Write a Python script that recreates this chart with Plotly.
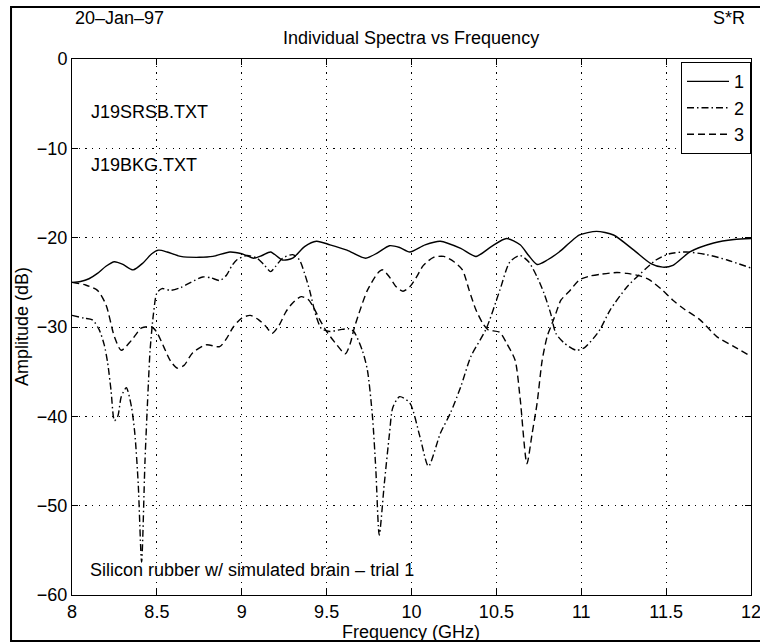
import plotly.graph_objects as go

# Frequency axis (GHz) and amplitude (dB) for each spectrum
freq_1 = [8.0, 8.05, 8.1, 8.15, 8.2, 8.25, 8.3, 8.36, 8.42, 8.47, 8.51, 8.56, 8.64, 8.75,
          8.83, 8.93, 9.0, 9.07, 9.12, 9.17, 9.24, 9.3, 9.37, 9.44, 9.52, 9.62, 9.73, 9.8,
          9.87, 9.93, 9.99, 10.08, 10.17, 10.29, 10.38, 10.47, 10.56, 10.64, 10.69, 10.74,
          10.8, 10.87, 10.93, 10.99, 11.09, 11.19, 11.31, 11.41, 11.48, 11.54, 11.64, 11.78,
          11.9, 12.0]
amp_1 = [-25.0, -24.9, -24.6, -24.0, -23.2, -22.7, -23.0, -23.6, -22.8, -21.8, -21.4, -21.6,
         -22.1, -22.2, -22.1, -21.6, -21.8, -22.3, -22.0, -21.6, -22.5, -22.3, -21.0, -20.4,
         -20.8, -21.4, -22.3, -21.7, -20.9, -21.1, -21.6, -20.8, -20.4, -21.2, -22.1, -21.0,
         -20.1, -20.8, -22.0, -23.0, -22.5, -21.6, -20.6, -19.7, -19.3, -19.7, -21.4, -22.9,
         -23.3, -23.1, -21.6, -20.6, -20.2, -20.1]

freq_2 = [8.0, 8.07, 8.12, 8.16, 8.19, 8.21, 8.23, 8.25, 8.27, 8.29, 8.32, 8.35, 8.37, 8.39,
          8.41, 8.43, 8.45, 8.46, 8.48, 8.5, 8.53, 8.58, 8.64, 8.7, 8.77, 8.82, 8.87, 8.91,
          8.94, 8.97, 9.03, 9.09, 9.13, 9.17, 9.2, 9.24, 9.3, 9.34, 9.37, 9.4, 9.42, 9.44,
          9.47, 9.52, 9.58, 9.63, 9.66, 9.71, 9.74, 9.77, 9.79, 9.81, 9.84, 9.87, 9.89, 9.93,
          9.99, 10.05, 10.1, 10.17, 10.23, 10.29, 10.35, 10.44, 10.52, 10.58, 10.64, 10.69,
          10.74, 10.78, 10.82, 10.85, 10.9, 10.97, 11.02, 11.07, 11.11, 11.17, 11.27, 11.35,
          11.44, 11.52, 11.62, 11.74, 11.86, 12.0]
amp_2 = [-28.7, -29.0, -29.2, -30.3, -32.0, -34.0, -37.1, -40.5, -40.0, -37.8, -36.8, -38.9,
         -41.9, -47.5, -56.3, -45.0, -36.3, -32.6, -28.5, -26.2, -25.7, -25.9, -25.6, -25.0,
         -24.4, -24.5, -24.8, -24.2, -23.2, -22.5, -22.0, -22.3, -23.0, -23.8, -23.2, -22.3,
         -21.9, -22.5, -24.0, -25.9, -27.5, -28.9, -30.2, -30.5, -30.3, -30.2, -30.5, -32.6,
         -34.8, -40.0, -46.0, -53.3, -47.5, -42.0, -39.0, -37.8, -38.5, -42.3, -45.6, -41.9,
         -39.6, -36.7, -33.3, -30.2, -25.9, -22.7, -22.0, -22.7, -24.4, -26.2, -28.5, -30.7,
         -31.8, -32.6, -32.3, -31.3, -30.3, -28.1, -25.5, -24.0, -22.5, -21.8, -21.6, -21.9,
         -22.5, -23.4]

freq_3 = [8.0, 8.08, 8.15, 8.2, 8.25, 8.29, 8.35, 8.41, 8.47, 8.5, 8.54, 8.58, 8.62, 8.66,
          8.71, 8.79, 8.87, 8.91, 8.95, 9.0, 9.05, 9.1, 9.14, 9.18, 9.22, 9.26, 9.3, 9.35,
          9.39, 9.42, 9.46, 9.5, 9.56, 9.61, 9.64, 9.66, 9.69, 9.74, 9.8, 9.83, 9.87, 9.91,
          9.95, 9.99, 10.03, 10.07, 10.13, 10.19, 10.25, 10.3, 10.34, 10.38, 10.42, 10.45,
          10.52, 10.56, 10.61, 10.64, 10.68, 10.71, 10.74, 10.77, 10.8, 10.82, 10.85, 10.88,
          10.93, 10.99, 11.05, 11.11, 11.21, 11.27, 11.35, 11.4, 11.48, 11.54, 11.6, 11.7,
          11.8, 11.9, 12.0]
amp_3 = [-25.0, -25.3, -25.9, -27.5, -31.1, -32.6, -31.5, -30.1, -30.0, -30.6, -32.2, -33.8,
         -34.6, -34.3, -32.9, -32.0, -32.2, -31.3, -30.0, -29.0, -28.7, -29.2, -29.9, -30.7,
         -29.8, -28.3, -27.3, -26.6, -26.9, -27.7, -29.2, -30.5, -32.0, -33.0, -31.8, -30.3,
         -28.5, -25.9, -24.0, -23.6, -24.4, -25.5, -26.0, -25.5, -24.4, -23.1, -22.2, -22.1,
         -22.7, -23.6, -25.9, -28.1, -29.6, -30.3, -30.6, -31.8, -33.7, -38.0, -45.3, -42.0,
         -38.5, -33.7, -31.0, -30.0, -28.5, -27.0, -26.0, -24.7, -24.3, -24.1, -23.9, -24.0,
         -24.3, -24.7, -25.9, -27.0, -27.9, -29.2, -31.1, -32.2, -33.3]

x_ticks = [8, 8.5, 9, 9.5, 10, 10.5, 11, 11.5, 12]
x_tick_text = ["8", "8.5", "9", "9.5", "10", "10.5", "11", "11.5", "12"]
y_ticks = [0, -10, -20, -30, -40, -50, -60]

FONT = "Liberation Sans, Arial, Helvetica, sans-serif"
INK = "black"

fig = go.Figure()
fig.add_trace(go.Scatter(x=freq_1, y=amp_1, name="1", mode="lines",
                         line=dict(color=INK, width=1.4, shape="spline", smoothing=0.7)))
fig.add_trace(go.Scatter(x=freq_2, y=amp_2, name="2", mode="lines",
                         line=dict(color=INK, width=1.4, shape="spline", smoothing=0.7,
                                   dash="7px,3px,1.5px,3px")))
fig.add_trace(go.Scatter(x=freq_3, y=amp_3, name="3", mode="lines",
                         line=dict(color=INK, width=1.4, shape="spline", smoothing=0.7,
                                   dash="7px,4px")))

axis_common = dict(
    showline=True, linecolor=INK, linewidth=1, mirror="ticks",
    ticks="inside", ticklen=6, tickcolor=INK, tickwidth=1,
    showgrid=True, gridcolor=INK, gridwidth=1.1, griddash="1.2px,5.5px",
    zeroline=False, tickfont=dict(family=FONT, size=18, color=INK),
    ticklabeloverflow="allow", automargin=False,
)

fig.update_xaxes(range=[8, 12], tickvals=x_ticks, ticktext=x_tick_text, **axis_common)
fig.update_yaxes(range=[-60, 0], tickvals=y_ticks, **axis_common)

# Frame around the whole figure
fig.add_shape(type="rect", xref="paper", yref="paper",
              x0=-0.0898, x1=1.02, y0=-0.0858, y1=1.097,
              line=dict(color=INK, width=2), layer="below")

notes = [
    dict(text="20\u2013Jan\u201397", x=0.0015, y=1.0765, xanchor="left"),
    dict(text="S*R", x=0.994, y=1.0765, xanchor="right"),
    dict(text="Individual Spectra vs Frequency", x=0.4993, y=1.039, xanchor="center"),
    dict(text="Frequency (GHz)", x=0.4993, y=-0.069, xanchor="center"),
]
for n in notes:
    fig.add_annotation(xref="paper", yref="paper", showarrow=False, yanchor="middle",
                       font=dict(family=FONT, size=18, color=INK), **n)

fig.add_annotation(text="Amplitude (dB)", xref="paper", yref="paper", x=-0.0736, y=0.5,
                   textangle=-90, showarrow=False, xanchor="center", yanchor="middle",
                   font=dict(family=FONT, size=18, color=INK))

for txt, xv, yv in [("J19SRSB.TXT", 8.1, -5.9), ("J19BKG.TXT", 8.1, -11.9),
                    ("Silicon rubber w/ simulated brain \u2013 trial 1", 8.094, -57.2)]:
    fig.add_annotation(text=txt, x=xv, y=yv, showarrow=False, xanchor="left",
                       yanchor="middle", font=dict(family=FONT, size=18, color=INK))

fig.update_layout(
    width=760, height=644,
    margin=dict(l=72, r=9, t=59, b=49, autoexpand=False),
    paper_bgcolor="white", plot_bgcolor="white",
    showlegend=True,
    legend=dict(x=1, xanchor="right", y=0.994, yanchor="top",
                bgcolor="white", bordercolor=INK, borderwidth=1,
                font=dict(family=FONT, size=18, color=INK),
                itemwidth=42, tracegroupgap=0),
)

fig.write_html("out.html")
